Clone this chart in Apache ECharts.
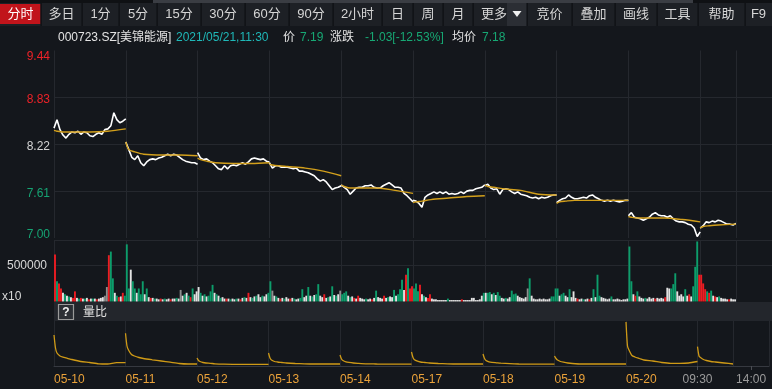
<!DOCTYPE html>
<html><head><meta charset="utf-8">
<script src="https://cdn.jsdelivr.net/npm/echarts@6/dist/echarts.min.js"></script>
<style>html,body{margin:0;padding:0;background:#14171c;}#c{width:772px;height:389px;}</style>
</head><body><div id="c"></div>
<script>
// ---------- DATA ----------
const dayLabels = ['05-10','05-11','05-12','05-13','05-14','05-17','05-18','05-19','05-20','05-21'];
const timeLabels = ['09:30','14:00'];
const timeLabelMinutes = [0, 180];           // trading minutes into the last day
const prevClose = 8.22;
const priceMin = 7.00, priceMax = 9.44, priceStep = 0.61;
const volTickValue = 50;                      // in 10k units -> 500000
const volTickText = '500000';
const volUnitText = 'x10';

// price every 10 trading minutes
const price0 = [8.43,8.54,8.41,8.34,8.30,8.35,8.38,8.37,8.39,8.35,8.38,8.37,8.33,8.32,8.35,8.37,8.35,8.41,8.42,8.46,8.63,8.54,8.50,8.52,8.55];
const price1 = [8.25,8.15,8.05,8.02,8.07,7.98,7.94,7.99,8.02,8.03,8.02,8.04,8.05,8.07,8.09,8.07,8.09,8.08,8.05,8.02,8.00,7.99,7.98,7.98,7.96];
const price2 = [8.11,8.04,8.02,8.03,8.00,7.98,7.94,7.90,7.89,7.94,7.90,7.94,7.95,7.94,7.96,7.98,7.96,7.99,8.03,8.04,8.03,8.02,8.03,8.00,7.99];
const price3 = [7.98,7.91,7.94,7.94,7.92,7.92,7.92,7.91,7.90,7.91,7.87,7.87,7.86,7.85,7.83,7.81,7.77,7.74,7.76,7.73,7.68,7.63,7.65,7.66,7.68];
const price4 = [7.69,7.66,7.63,7.57,7.61,7.65,7.66,7.66,7.68,7.68,7.69,7.66,7.65,7.65,7.68,7.70,7.72,7.69,7.66,7.66,7.65,7.58,7.55,7.51,7.47];
const price5 = [7.49,7.48,7.45,7.40,7.53,7.56,7.58,7.60,7.58,7.60,7.58,7.60,7.57,7.58,7.57,7.58,7.60,7.58,7.61,7.62,7.62,7.64,7.65,7.66,7.69];
const price6 = [7.68,7.70,7.65,7.63,7.64,7.57,7.63,7.64,7.63,7.60,7.58,7.60,7.57,7.56,7.55,7.53,7.52,7.53,7.51,7.53,7.52,7.53,7.55,7.56,7.56];
const price7 = [7.46,7.49,7.51,7.52,7.56,7.53,7.51,7.51,7.52,7.53,7.52,7.55,7.56,7.53,7.51,7.49,7.48,7.49,7.48,7.49,7.48,7.47,7.48,7.49,7.49];
const price8 = [7.29,7.33,7.27,7.26,7.25,7.23,7.25,7.27,7.31,7.33,7.30,7.29,7.29,7.27,7.29,7.25,7.22,7.21,7.21,7.20,7.18,7.17,7.13,7.02,7.08];
const price9 = [7.13,7.16,7.21,7.20,7.22,7.21,7.23,7.22,7.20,7.18,7.18,7.17,7.19];

// average price at these minutes
const avgMinutes = [0,10,30,60,120,180,240];
const avg0 = [8.40,8.39,8.38,8.38,8.38,8.39,8.42];
const avg1 = [8.25,8.15,8.12,8.09,8.08,8.08,8.07];
const avg2 = [8.04,8.02,8.00,7.98,7.97,7.97,7.98];
const avg3 = [7.96,7.95,7.94,7.93,7.91,7.87,7.81];
const avg4 = [7.69,7.67,7.65,7.65,7.65,7.62,7.58];
const avg5 = [7.46,7.47,7.48,7.50,7.52,7.54,7.55];
const avg6 = [7.69,7.67,7.66,7.64,7.62,7.57,7.56];
const avg7 = [7.45,7.47,7.48,7.49,7.49,7.49,7.49];
const avg8 = [7.28,7.27,7.26,7.26,7.26,7.24,7.21];
const avg9 = [7.13,7.15,7.16,7.17,7.18];

// volume, 36 buckets per day, in units of 10k (axis shows x10)
const vol0 = [65,28,25,18,12,10,8,7,6,5,14,5,4,5,4,4,5,3,4,4,4,3,4,5,6,8,20,64,69,32,12,8,6,7,12,8];
const vol1 = [79,18,44,28,18,12,18,10,28,10,18,6,5,5,4,4,3,4,3,4,3,4,3,4,4,5,4,16,8,10,12,8,6,18,10,14];
const vol2 = [20,12,8,10,7,8,14,23,12,10,8,5,6,4,4,4,3,4,3,4,4,3,5,6,5,12,6,5,7,8,10,6,8,7,10,12];
const vol3 = [28,15,8,7,5,4,5,4,6,4,4,5,4,3,4,5,17,6,8,20,8,7,9,10,24,8,6,10,5,6,7,21,9,8,10,15];
const vol4 = [10,12,14,8,6,7,5,4,8,5,4,3,4,3,4,3,5,15,6,5,4,8,5,6,7,6,16,8,10,17,30,16,37,46,18,21];
const vol5 = [18,25,14,23,10,8,6,5,10,4,3,3,2,2,2,2,2,4,2,2,2,2,2,2,3,2,2,2,2,5,5,2,2,3,8,12];
const vol6 = [12,12,13,10,12,9,13,8,5,4,5,4,6,15,10,11,8,6,5,4,6,18,32,8,4,3,3,4,3,4,3,3,4,7,7,18];
const vol7 = [18,8,10,12,8,6,17,6,14,5,4,3,4,3,3,4,3,5,17,6,37,8,6,5,4,3,4,7,3,3,4,3,2,3,3,4];
const vol8 = [76,28,10,8,14,7,5,4,5,4,6,4,5,4,5,4,5,4,6,19,18,18,24,39,14,8,10,7,17,8,10,7,21,48,83,37];
const vol9 = [37,25,17,14,12,15,8,7,6,7,5,4,4,3,3,4,3,3];
// bar colours: r = up, g = down, w = flat, k = grey
const volColor0 = 'rgrrwgwgwrrwgrwgwrwgwrwwwkkrggwgrwrg';
const volColor1 = 'ggwggwgggwgwrwgwwrwgwwrwwgwkwgwgrgww';
const volColor2 = 'wgwgwgggwgwgwwrwgwwgwrwgwrwgwgwwgwwg';
const volColor3 = 'gkwgwrwgwwrwgwwggwwgwgwggwwrwgwgwgwk';
const volColor4 = 'gggwgwrwrwwwgwwrwgwwwrwgwwgwgggwrgrr';
const volColor5 = 'gggrwgwrrwwwwwwwwgwwwwwwrwwwwwwwwwwg';
const volColor6 = 'wggwgwggwwgwwgggwwwwwkgwwwwwwwwwwggg';
const volColor7 = 'gwggwwgwwwrwwgwwrwgwggwwwwwgwwwwwwww';
const volColor8 = 'ggwrgwwwgwwwwrwwwwrwwgggwwwwgwrwgggr';
const volColor9 = 'rrrgrgwrwgwwwwrwww';

// volume ratio (量比) at these minutes
const vrMinutes = [0,5,10,20,30,45,60,90,120,150,180,210,240];
const vr0 = [3.1,1.8,1.3,1.0,0.88,0.77,0.65,0.45,0.35,0.22,0.2,0.33,0.33];
const vr1 = [3.27,2.0,1.6,1.15,1.0,0.85,0.75,0.62,0.5,0.38,0.25,0.2,0.2];
const vr2 = [0.8,0.55,0.45,0.35,0.3,0.27,0.22,0.18,0.17,0.17,0.17,0.17,0.17];
const vr3 = [1.3,0.8,0.6,0.45,0.4,0.35,0.3,0.25,0.22,0.2,0.2,0.2,0.2];
const vr4 = [1.1,0.7,0.55,0.42,0.36,0.3,0.27,0.22,0.2,0.18,0.18,0.18,0.18];
const vr5 = [1.4,0.85,0.62,0.48,0.4,0.35,0.3,0.25,0.22,0.2,0.2,0.2,0.2];
const vr6 = [1.2,0.75,0.55,0.42,0.36,0.32,0.28,0.24,0.2,0.18,0.18,0.18,0.18];
const vr7 = [1.0,0.75,0.6,0.45,0.38,0.3,0.25,0.2,0.2,0.2,0.2,0.2,0.2];
const vr8 = [4.4,2.0,1.6,1.05,0.9,0.75,0.6,0.5,0.35,0.27,0.27,0.3,0.45];
const vr9 = [1.93,1.0,0.85,0.65,0.55,0.45,0.4,0.3,0.2];

// toolbar + header text
const toolbarItems = ['分时','多日','1分','5分','15分','30分','60分','90分','2小时','日','周','月','更多','竞价','叠加','画线','工具','帮助','F9'];
const toolbarEdges = [0,41,82,119,157,201,245,289,333,382,413,443,473,527,572,615,657,698,745,772];
const headerParts = [
  ['000723.SZ[美锦能源]','n',58], ['2021/05/21,11:30','t',176], ['价','n',283], ['7.19','g',300],
  ['涨跌','n',330], ['-1.03[-12.53%]','g',365], ['均价','n',452], ['7.18','g',482]
];

// ---------- BUILD ----------
const MPD = 240;
const FONT = 'Arial, "Liberation Sans", "Noto Sans CJK SC", sans-serif';
const GRIDC = '#25282e';
const COL = {r:'#ee1c22', g:'#0d9d6b', w:'#e2e2e2', k:'#8f8f8f'};
const HCOL = {n:'#e4e4e4', t:'#1fb8b8', g:'#17a874'};

const priceDays = [price0,price1,price2,price3,price4,price5,price6,price7,price8,price9];
const avgDays = [avg0,avg1,avg2,avg3,avg4,avg5,avg6,avg7,avg8,avg9];
const volDays = [vol0,vol1,vol2,vol3,vol4,vol5,vol6,vol7,vol8,vol9];
const volColors = [volColor0,volColor1,volColor2,volColor3,volColor4,volColor5,volColor6,volColor7,volColor8,volColor9];
const vrDays = [vr0,vr1,vr2,vr3,vr4,vr5,vr6,vr7,vr8,vr9];

function lineData(days, minuteOf) {
  const out = [];
  days.forEach((arr, d) => {
    arr.forEach((v, k) => out.push([d * MPD + minuteOf(k), v]));
    out.push([d * MPD + minuteOf(arr.length - 1), '-']);
  });
  return out;
}
const priceData = lineData(priceDays, k => k * 10);
const avgData = lineData(avgDays, k => avgMinutes[k]);
const vrData = lineData(vrDays, k => vrMinutes[k]);
const barData = [];
volDays.forEach((arr, d) => arr.forEach((v, i) => barData.push({
  value: [d * MPD + (i + 0.5) * MPD / 36, v],
  itemStyle: {color: COL[volColors[d][i]] || COL.w}
})));

const lastDay = dayLabels.length - 1;
const timeValues = timeLabelMinutes.map(m => lastDay * MPD + m);
const middayLine = {silent: true, symbol: 'none', label: {show: false},
  lineStyle: {color: GRIDC, type: 'solid', width: 1}, data: [{xAxis: lastDay * MPD + 120}]};

const baseX = (gi) => ({gridIndex: gi, type: 'value', min: 0, max: MPD * dayLabels.length, interval: MPD,
  axisLine: {show: false}, axisTick: {show: false}, axisLabel: {show: false},
  splitLine: {show: true, lineStyle: {color: GRIDC, width: 1}}});

// graphics
const g = [];
g.push({type: 'rect', shape: {x: 0, y: 0, width: 772, height: 26}, style: {fill: '#1d2025'}, z: 1});
g.push({type: 'rect', shape: {x: 0, y: 0, width: 772, height: 3}, style: {fill: '#0f1114'}, z: 1});
g.push({type: 'rect', shape: {x: 153, y: 0, width: 540, height: 3}, style: {fill: '#3a3d43'}, z: 2});
g.push({type: 'rect', shape: {x: 0, y: 4, width: toolbarEdges[1] - 0.5, height: 20}, style: {fill: '#c1141b'}, z: 2});
g.push({type: 'rect', shape: {x: 507, y: 3, width: 20, height: 23}, style: {fill: '#2b2e34'}, z: 2});
for (let i = 1; i < toolbarEdges.length - 1; i++) {
  g.push({type: 'rect', shape: {x: toolbarEdges[i] - 0.5, y: 3, width: 1.2, height: 23}, style: {fill: '#0d0f12'}, z: 3});
}
toolbarItems.forEach((t, i) => {
  let cx = (toolbarEdges[i] + toolbarEdges[i + 1]) / 2;
  if (t === '更多') cx = 494;
  g.push({type: 'text', z: 4, style: {x: cx, y: 14, text: t, fill: i === 0 ? '#ffffff' : '#d6d6d6',
    font: '13px ' + FONT, align: 'center', verticalAlign: 'middle'}});
});
g.push({type: 'polygon', z: 4, shape: {points: [[512.5, 11], [521.5, 11], [517, 17]]}, style: {fill: '#f0f0f0'}});
headerParts.forEach(p => g.push({type: 'text', z: 4, style: {x: p[2], y: 37.5, text: p[0], fill: HCOL[p[1]],
  font: '12px ' + FONT, align: 'left', verticalAlign: 'middle'}}));
// 量比 band
g.push({type: 'rect', z: 1, shape: {x: 54, y: 302, width: 718, height: 19}, style: {fill: '#23262c'}});
g.push({type: 'rect', z: 2, shape: {x: 58.5, y: 304.5, width: 15, height: 15}, style: {fill: '#2c2f35', stroke: '#9a9a9a', lineWidth: 1.2}});
g.push({type: 'text', z: 3, style: {x: 66, y: 312.5, text: '?', fill: '#f0f0f0', font: 'bold 12px ' + FONT, align: 'center', verticalAlign: 'middle'}});
g.push({type: 'text', z: 3, style: {x: 83, y: 312.5, text: '量比', fill: '#e0e0e0', font: '12px ' + FONT, align: 'left', verticalAlign: 'middle'}});
g.push({type: 'text', z: 3, style: {x: 2, y: 297, text: volUnitText, fill: '#d8d8d8', font: '12px ' + FONT, align: 'left', verticalAlign: 'middle'}});

const lab = (color, pad) => ({color: color, fontSize: 12, fontFamily: FONT, padding: pad});
const option = {
  backgroundColor: '#14171c',
  animation: false,
  textStyle: {fontFamily: FONT},
  grid: [
    {left: 54, top: 50.5, width: 718, height: 187.5},
    {left: 54, top: 240, width: 718, height: 61.5},
    {left: 54, top: 321, width: 718, height: 45}
  ],
  xAxis: [
    baseX(0), baseX(1),
    Object.assign(baseX(2), {
      position: 'bottom',
      axisLine: {show: true, lineStyle: {color: '#363940'}},
      axisLabel: {show: true, align: 'left', color: '#eaa23a', fontSize: 12, margin: 8, fontFamily: FONT,
        formatter: v => { const d = Math.round(v / MPD); return d < lastDay ? dayLabels[d] : ''; }}
    }),
    {gridIndex: 2, type: 'value', position: 'bottom', min: 0, max: MPD * dayLabels.length,
      axisLine: {show: false}, splitLine: {show: false},
      axisTick: {show: true, customValues: timeValues, length: 4, lineStyle: {color: '#4a4d53'}},
      axisLabel: {show: true, customValues: timeValues, align: 'center', color: '#9b9b9b', fontSize: 12, margin: 8, fontFamily: FONT,
        formatter: v => { const i = timeValues.indexOf(v); return i >= 0 ? timeLabels[i] : ''; }}}
  ],
  yAxis: [
    {gridIndex: 0, type: 'value', min: priceMin, max: priceMax, interval: priceStep,
      axisLine: {show: false}, axisTick: {show: false},
      splitLine: {show: true, showMaxLine: false, showMinLine: false, lineStyle: {color: GRIDC}},
      axisLabel: {margin: 4, fontSize: 12, fontFamily: FONT,
        verticalAlignMaxLabel: 'top',
        formatter: v => {
          let c = v > prevClose + 0.001 ? 'u' : (v < prevClose - 0.001 ? 'd' : 'e');
          if (Math.abs(v - priceMax) < 0.001) c = 'ut';
          if (Math.abs(v - priceMin) < 0.001) c = 'db';
          return '{' + c + '|' + v.toFixed(2) + '}';
        },
        rich: {u: lab('#ec2228', [5, 0, 0, 0]), ut: lab('#ec2228', [0, 0, 0, 0]),
               d: lab('#16a373', [5, 0, 0, 0]), db: lab('#16a373', [0, 0, 6, 0]),
               e: lab('#d4d4d4', [5, 0, 0, 0])}}},
    {gridIndex: 1, type: 'value', min: 0, max: 85, interval: volTickValue,
      axisLine: {show: false}, axisTick: {show: false},
      splitLine: {show: true, showMinLine: false, lineStyle: {color: GRIDC}},
      axisLabel: {margin: 7, fontSize: 12, color: '#d8d8d8', fontFamily: FONT,
        formatter: v => Math.abs(v - volTickValue) < 1e-6 ? volTickText : ''}},
    {gridIndex: 2, type: 'value', min: 0, max: 4.5, show: false}
  ],
  series: [
    {type: 'line', xAxisIndex: 0, yAxisIndex: 0, data: priceData, showSymbol: false, connectNulls: false,
      lineStyle: {color: '#ffffff', width: 1.6}, z: 3, markLine: middayLine},
    {type: 'line', xAxisIndex: 0, yAxisIndex: 0, data: avgData, showSymbol: false, connectNulls: false, smooth: 0.3,
      lineStyle: {color: '#d3a01c', width: 1.4}, z: 4},
    {type: 'bar', xAxisIndex: 1, yAxisIndex: 1, data: barData, barWidth: 1.9, z: 3, markLine: middayLine},
    {type: 'line', xAxisIndex: 2, yAxisIndex: 2, data: vrData, showSymbol: false, connectNulls: false, smooth: 0.2,
      lineStyle: {color: '#cf9a16', width: 1.3}, z: 3, markLine: middayLine}
  ],
  graphic: g
};
const chart = echarts.init(document.getElementById('c'));
chart.setOption(option);
</script>
</body></html>
